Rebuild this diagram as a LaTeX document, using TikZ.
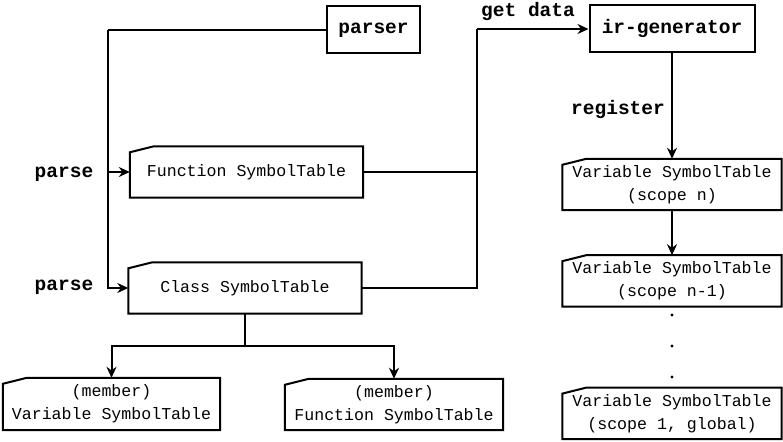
\documentclass[tikz,border=0pt]{standalone}
\usepackage{fontspec}
\setmonofont{Liberation Mono}
\usetikzlibrary{positioning, arrows.meta}
\tikzset{
	module/.style={draw, rectangle, line width=2pt, inner sep=0pt, font=\ttfamily\bfseries\fontsize{19.5}{23}\selectfont},
	table/.style={rectangle, inner sep=0pt, align=center, font=\ttfamily\fontsize{16.6}{23}\selectfont},
	scopebox/.style={minimum width=219pt, minimum height=51pt},
	tag/.style={font=\ttfamily\bfseries\fontsize{19.5}{23}\selectfont},
	wire/.style={line width=2pt},
	flow/.style={wire, -{Stealth[length=11pt, width=10pt]}}
}
\begin{document}
\begin{tikzpicture}[x=1pt, y=-1pt]
			\useasboundingbox (0,0) rectangle (783,441);
			% Nodes
			\node (parser) [module, minimum width=93pt, minimum height=47pt] at (373.5,30) {parser};
			\node (irgen) [module, minimum width=165pt, minimum height=47pt] at (672,29) {ir-generator};
			\node (func) [table, minimum width=233pt, minimum height=51pt] at (246.5,172) {Function SymbolTable};
			\node (class) [table, minimum width=233pt, minimum height=51pt] at (245,288) {Class SymbolTable};
			\node (mvar) [table, minimum width=217pt, minimum height=52pt] at (111.5,404) {(member)\\Variable SymbolTable};
			\node (mfunc) [table, minimum width=218pt, minimum height=51pt] at (394,404.5) {(member)\\Function SymbolTable};
			\node (varn) [table, scopebox] at (672,184.5) {Variable SymbolTable\\(scope n)};
			\node (varn1) [table, scopebox, below=45pt of varn] {Variable SymbolTable\\(scope n-1)};
			\node (var1) [table, scopebox, below=81pt of varn1] {Variable SymbolTable\\(scope 1, global)};
			
			% Card outlines
			\foreach \card in {func, class, mvar, mfunc, varn, varn1, var1}
				\draw[wire] ([yshift=-6pt]\card.north west) -- ([xshift=24pt]\card.north west) -- (\card.north east) -- (\card.south east) -- (\card.south west) -- cycle;
			
			% Dots
			\foreach \dy in {315, 346, 377}
				\fill (672,\dy) circle (1.6pt);
			
			% Labels
			\node (parse1) [tag] at (64,174) {parse};
			\node (parse2) [tag] at (64,287) {parse};
			\node (getdata) [tag] at (528,12) {get data};
			\node (register) [tag] at (618,110) {register};
			
			% Edges
			\coordinate (fan) at (108,30);
			\coordinate (merge) at (477,29);
			\coordinate (fork) at (245,346);
			\draw[wire] (parser.west) -- (fan);
			\draw[flow] (fan) |- (func.west);
			\draw[flow] (fan) |- (class.west);
			\draw[wire] (func.east) -| (merge);
			\draw[wire] (class.east) -| (merge);
			\draw[flow] (merge) -- (irgen.west);
			\draw[flow] (irgen.south) -- (varn.north);
			\draw[flow] (varn.south) -- (varn1.north);
			\draw[wire] (class.south) -- (fork);
			\draw[flow] (fork) -| (mvar.north);
			\draw[flow] (fork) -| (mfunc.north);

		\end{tikzpicture}
\end{document}
